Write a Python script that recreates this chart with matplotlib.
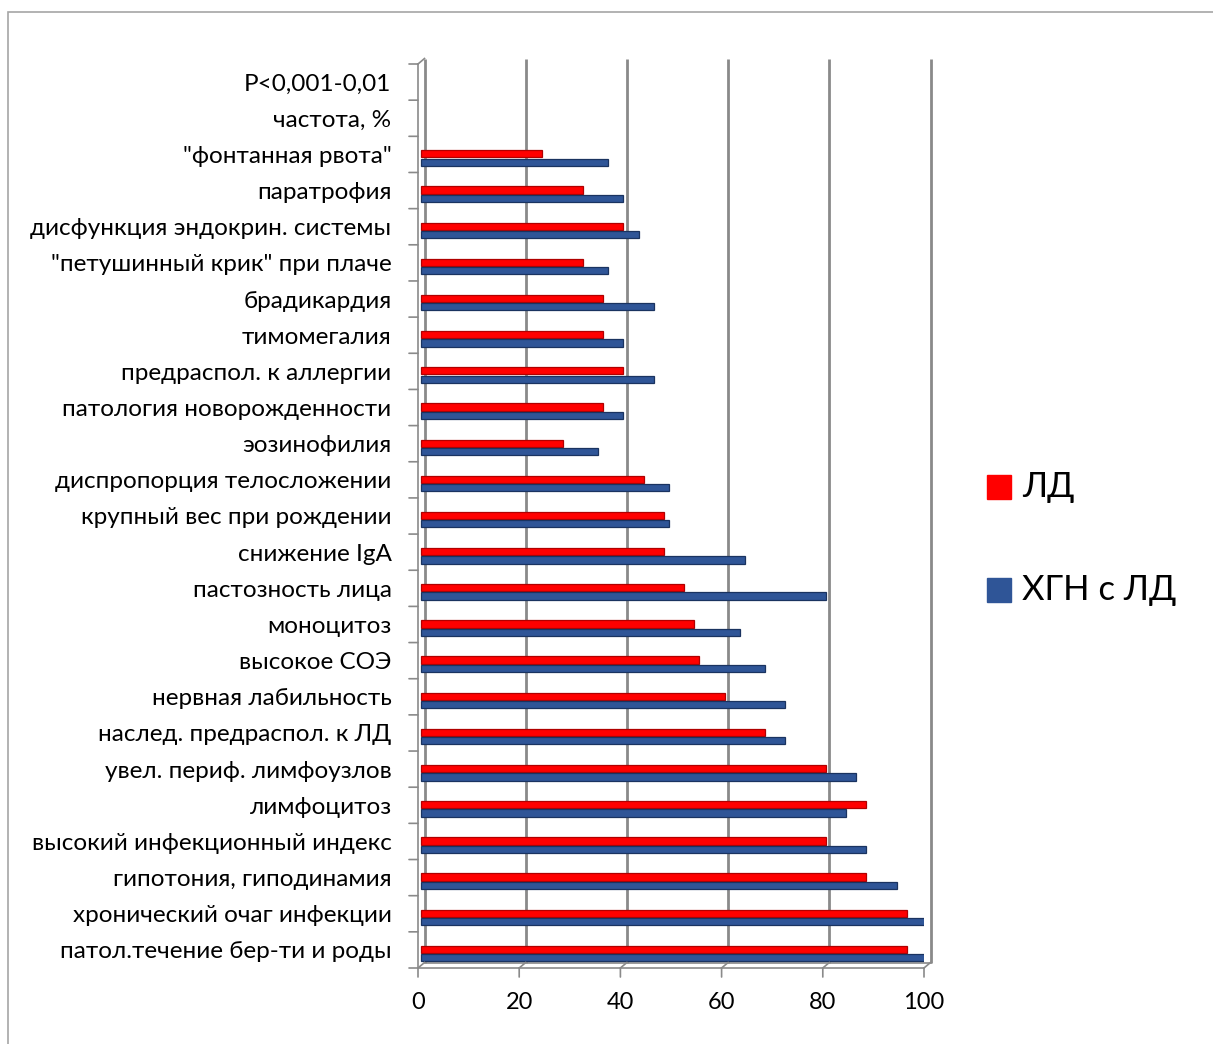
import numpy as np
import matplotlib
matplotlib.use("Agg")
import matplotlib.pyplot as plt
from matplotlib.transforms import ScaledTranslation
from matplotlib.patches import Rectangle

plt.rcParams['font.family'] = ['Lato', 'DejaVu Sans']

# признаки (снизу вверх)
labels = ['патол.течение бер-ти и роды', 'хронический очаг инфекции',
          'гипотония, гиподинамия', 'высокий инфекционный индекс',
          'лимфоцитоз', 'увел. периф. лимфоузлов', 'наслед. предраспол. к ЛД',
          'нервная лабильность', 'высокое СОЭ', 'моноцитоз', 'пастозность лица',
          'снижение IgA', 'крупный вес при рождении', 'диспропорция телосложении',
          'эозинофилия', 'патология новорожденности', 'предраспол. к аллергии',
          'тимомегалия', 'брадикардия', '"петушинный крик" при плаче',
          'дисфункция эндокрин. системы', 'паратрофия', '"фонтанная рвота"',
          'частота, %', 'P<0,001-0,01']
ld = [96, 96, 88, 80, 88, 80, 68, 60, 55, 54, 52, 48, 48, 44, 28, 36, 40, 36,
      36, 32, 40, 32, 24, np.nan, np.nan]
hgn = [100, 100, 94, 88, 84, 86, 72, 72, 68, 63, 80, 64, 49, 49, 35, 40, 46, 40,
       46, 37, 43, 40, 37, np.nan, np.nan]
xticks = [0, 20, 40, 60, 80, 100]

W, H = 1213, 1044
fig = plt.figure(figsize=(W / 100, H / 100), dpi=100)
ax = fig.add_axes([418 / W, 1 - 968 / H, 506 / W, 904 / H])
ax.set_xlim(0, 100)
ax.set_ylim(-0.5, len(labels) - 0.5)
for s in ax.spines.values():
    s.set_visible(False)

def shift(dx, dy):
    return ax.transData + ScaledTranslation(dx / 100, dy / 100, fig.dpi_scale_trans)

DX, DY = 6.5, 5.5          # глубина объёма, px
back = shift(DX, DY)
grey = '#8a8a8a'
top = len(labels) - 0.5

# задняя стенка: линии сетки
for v in xticks:
    ax.plot([v, v], [-0.5, top], color=grey, lw=2.0, transform=back,
            clip_on=False, zorder=1, solid_capstyle='butt')
# пол и боковая стенка
ax.plot([0, 100], [-0.5, -0.5], color=grey, lw=1.2, transform=back, clip_on=False, zorder=1)
ax.plot([0, 100], [-0.5, -0.5], color=grey, lw=1.2, clip_on=False, zorder=1)
ax.plot([0, 0], [-0.5, top], color=grey, lw=1.2, clip_on=False, zorder=1)

# диагональные рёбра
def edge(x, y):
    p0 = fig.transFigure.inverted().transform(ax.transData.transform((x, y)))
    p1 = p0 + np.array([DX / W, DY / H])
    fig.add_artist(plt.Line2D([p0[0], p1[0]], [p0[1], p1[1]], color=grey, lw=1.2))

for v in xticks:
    edge(v, -0.5)
edge(0, top)

# засечки
line = dict(arrowstyle='-', color=grey, lw=1.2, shrinkA=0, shrinkB=0)
for v in xticks:
    ax.annotate('', xy=(v, -0.5), xycoords='data', xytext=(0, -9),
                textcoords='offset pixels', arrowprops=line)
for i in range(len(labels) + 1):
    ax.annotate('', xy=(0, i - 0.5), xycoords='data', xytext=(-9, 0),
                textcoords='offset pixels', arrowprops=line)

y = np.arange(len(labels))
h = 0.2
b1 = ax.barh(y + 0.07, ld, height=h, color='#ff0000', edgecolor='#b00000', lw=0.9, zorder=3)
b2 = ax.barh(y - 0.16, hgn, height=h, color='#2f5597', edgecolor='#1a3360', lw=0.9, zorder=3)
for p in list(b1) + list(b2):
    p.set_transform(shift(3, -2))

ax.set_yticks(y)
ax.set_yticklabels(labels, fontsize=17.5)
ax.set_xticks(xticks)
ax.set_xticklabels([str(v) for v in xticks], fontsize=17)
ax.tick_params(axis='y', length=0, pad=19)
ax.tick_params(axis='x', length=0, pad=17)

# легенда
for yy, col, txt in [(487, '#ff0000', 'ЛД'), (590, '#2f5597', 'ХГН с ЛД')]:
    fig.patches.append(Rectangle((987 / W, 1 - (yy + 12) / H), 24 / W, 24 / H,
                                 transform=fig.transFigure, color=col))
    fig.text(1022 / W, 1 - yy / H, txt, fontsize=25, va='center', ha='left')

# рамка
fig.patches.append(Rectangle((8 / W, -0.1), 1.2, 1 - 12 / H + 0.1,
                             transform=fig.transFigure, fill=False,
                             edgecolor='#a6a6a6', lw=1.2))

fig.savefig('out.png', dpi=100)
